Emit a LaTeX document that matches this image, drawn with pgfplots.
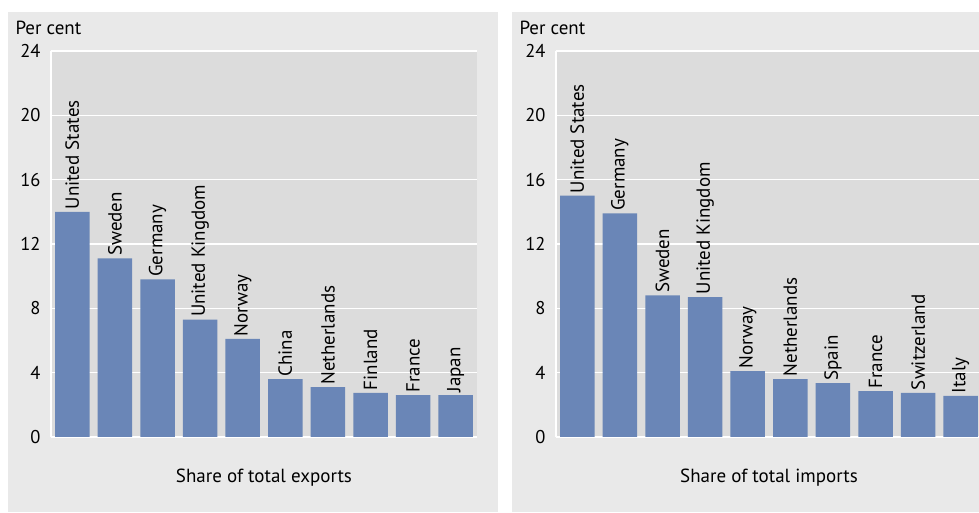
\documentclass[border=0pt]{standalone}
\usepackage{fontspec}
\setmainfont{PT Sans}
\usepackage{pgfplots}
\pgfplotsset{compat=1.18}
\definecolor{panelbg}{HTML}{E9E9E9}
\definecolor{plotbg}{HTML}{DCDCDC}
\definecolor{barblue}{HTML}{6A86B7}
\pgfplotsset{
  sharestyle/.style={
    width=426pt, height=386pt, scale only axis,
    ymin=0, ymax=24, ytick={0,4,...,24},
    xmin=-0.5, xmax=9.5, xtick=\empty,
    axis background/.style={fill=plotbg},
    axis x line*=bottom, axis y line*=left,
    axis line style={white, line width=1.5pt, -},
    ymajorgrids, grid style={white, line width=1.5pt},
    major tick length=0pt,
    tick label style={font=\fontsize{18.5}{20}\selectfont},
    yticklabel style={xshift=-7pt},
    /pgf/number format/assume math mode=true,
    xlabel style={font=\fontsize{19}{21}\selectfont, at={(axis description cs:0.5,0)}, anchor=center, yshift=-41pt},
    ybar, bar width=34.5pt,
    point meta=explicit symbolic,
    nodes near coords={\pgfplotspointmeta},
    every node near coord/.append style={rotate=90, anchor=west, inner sep=2.5pt, font=\fontsize{19}{21}\selectfont, black},
    clip=false,
  }
}
\begin{document}
\begin{tikzpicture}[x=1pt,y=1pt]
\path[use as bounding box] (0,0) rectangle (979,513);
\fill[panelbg] (8,1) rectangle (498,501);
\fill[panelbg] (512,1) rectangle (979,501);
\node[anchor=west, font=\fontsize{19}{21}\selectfont] at (12,485) {Per cent};
\node[anchor=west, font=\fontsize{19}{21}\selectfont] at (516,485) {Per cent};
\begin{axis}[sharestyle, at={(51pt,76pt)}, anchor=south west, xlabel={Share of total exports}]
\addplot[fill=barblue, draw=none] coordinates {
(0,14.0) [United States]
(1,11.1) [Sweden]
(2,9.8) [Germany]
(3,7.3) [United Kingdom]
(4,6.1) [Norway]
(5,3.6) [China]
(6,3.1) [Netherlands]
(7,2.75) [Finland]
(8,2.6) [France]
(9,2.6) [Japan]
};
\end{axis}
\begin{axis}[sharestyle, at={(556pt,76pt)}, anchor=south west, xlabel={Share of total imports}]
\addplot[fill=barblue, draw=none] coordinates {
(0,15.0) [United States]
(1,13.9) [Germany]
(2,8.8) [Sweden]
(3,8.7) [United Kingdom]
(4,4.1) [Norway]
(5,3.6) [Netherlands]
(6,3.35) [Spain]
(7,2.85) [France]
(8,2.75) [Switzerland]
(9,2.55) [Italy]
};
\end{axis}
\end{tikzpicture}
\end{document}
